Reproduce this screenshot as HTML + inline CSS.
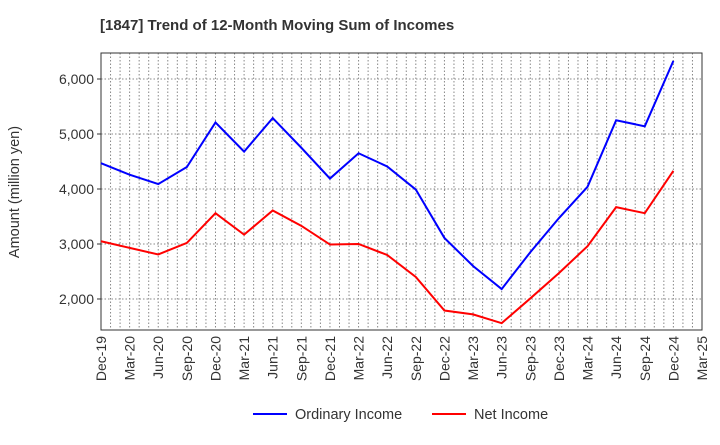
<!DOCTYPE html>
<html><head><meta charset="utf-8"><style>
body{margin:0;background:#fff;font-family:"Liberation Sans",sans-serif;}
svg text{font-family:"Liberation Sans",sans-serif;}
</style></head><body>
<svg width="720" height="440" xmlns="http://www.w3.org/2000/svg">
<text x="100" y="30" font-size="15" font-weight="bold" fill="#333">[1847]  Trend of 12-Month Moving Sum of Incomes</text>
<g id="grid"></g>
<g id="axes"></g>
<g id="series"></g>
<text transform="translate(19,192) rotate(-90)" text-anchor="middle" font-size="14.5" fill="#333">Amount (million yen)</text>
<g>
<line x1="253" y1="414" x2="287" y2="414" stroke="#0000ff" stroke-width="2"/>
<text x="295" y="419" font-size="14.5" fill="#333">Ordinary Income</text>
<line x1="432" y1="414" x2="466" y2="414" stroke="#ff0000" stroke-width="2"/>
<text x="474" y="419" font-size="14.5" fill="#333">Net Income</text>
</g>
</svg>
<script>
const categories=["Dec-19","Mar-20","Jun-20","Sep-20","Dec-20","Mar-21","Jun-21","Sep-21","Dec-21","Mar-22","Jun-22","Sep-22","Dec-22","Mar-23","Jun-23","Sep-23","Dec-23","Mar-24","Jun-24","Sep-24","Dec-24","Mar-25"];
const ordinaryIncome=[4470,4260,4090,4400,5210,4680,5290,4750,4190,4650,4410,3990,3110,2600,2180,2850,3470,4040,5250,5140,6330];
const netIncome=[3050,2930,2810,3020,3560,3170,3610,3330,2990,3000,2800,2400,1790,1720,1560,2010,2470,2960,3670,3560,4330];
const yTicks=[2000,3000,4000,5000,6000];
const yTickLabels=["2,000","3,000","4,000","5,000","6,000"];
const L=101,R=702,T=53,B=330,yMin=1436,yMax=6473;
const NS="http://www.w3.org/2000/svg";
const xs=i=>L+(R-L)*i/(categories.length-1);
const ys=v=>B-(v-yMin)/(yMax-yMin)*(B-T);
function mk(tag,attrs,parent){const e=document.createElementNS(NS,tag);for(const k in attrs)e.setAttribute(k,attrs[k]);document.getElementById(parent).appendChild(e);return e;}
const nMonths=(categories.length-1)*3;
for(let m=1;m<nMonths;m++){const x=L+(R-L)*m/nMonths;
const g=mk("line",{x1:x,x2:x,y1:T,y2:B,stroke:"#888","stroke-dasharray":"1.5,2","stroke-width":1},"grid");

}
yTicks.forEach((v,i)=>{const y=ys(v);
const g=mk("line",{x1:L,x2:R,y1:y,y2:y,stroke:"#888","stroke-dasharray":"1.5,2"},"grid");


const t=mk("text",{x:L-7,y:y+5,"text-anchor":"end","font-size":14,fill:"#333"},"axes");t.textContent=yTickLabels[i];


const tk=mk("line",{x1:L-4,x2:L,y1:y,y2:y,stroke:"#333"},"axes");

});
const fr=mk("rect",{x:L,y:T,width:R-L,height:B-T,fill:"none",stroke:"#333"},"axes");


categories.forEach((c,i)=>{const x=xs(i);
const t=mk("text",{transform:`translate(${x+5},${B+6}) rotate(-90)`,"text-anchor":"end","font-size":14,fill:"#333"},"axes");t.textContent=c;

});
function line(data,color,name){const p=mk("polyline",{points:data.map((v,i)=>xs(i)+","+ys(v)).join(" "),fill:"none",stroke:color,"stroke-width":2},"series");

}
line(ordinaryIncome,"#0000ff","ordinary-income-line");
line(netIncome,"#ff0000","net-income-line");
</script>
</body></html>
